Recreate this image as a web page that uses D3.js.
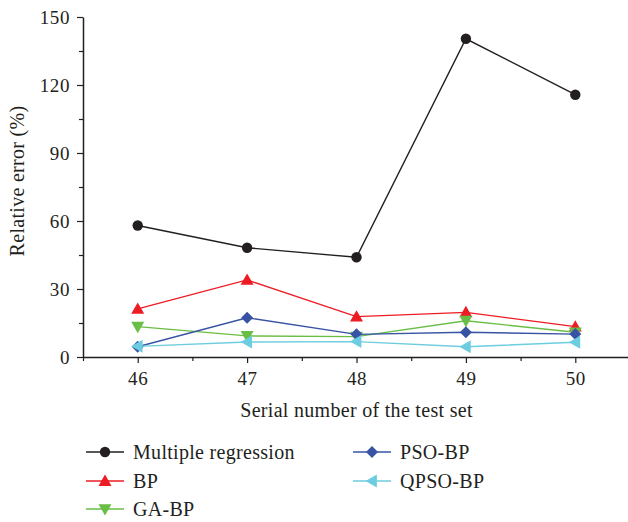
<!DOCTYPE html>
<html><head><meta charset="utf-8">
<script src="https://cdn.jsdelivr.net/npm/d3@7"></script>
<style>body{margin:0;background:#fff}svg{display:block}</style>
</head><body><svg id="c" width="628" height="522"></svg>
<script>
const categories = [46, 47, 48, 49, 50];
const seriesNames = ["Multiple regression", "BP", "GA-BP", "PSO-BP", "QPSO-BP"];
const multipleRegression = [58.0, 48.2, 44.0, 140.4, 115.7];
const bp = [21.2, 34.0, 17.8, 19.7, 13.4];
const gaBp = [13.4, 9.3, 9.0, 16.0, 10.9];
const psoBp = [4.5, 17.3, 10.0, 10.9, 10.1];
const qpsoBp = [4.7, 6.6, 6.8, 4.5, 6.5];
const yTicks = [0, 30, 60, 90, 120, 150];
const colors = ["#231f20", "#ed1c24", "#6abd45", "#3853a4", "#6dcde0"];
const symbols = ["circle", "up", "down", "diamond", "left"];

const allSeries = [multipleRegression, bp, gaBp, psoBp, qpsoBp];
const svg = d3.select("#c");
const font = "'Liberation Serif', 'DejaVu Serif', serif";
const x = d3.scaleLinear().domain([45.5, 50.5]).range([83, 630]);
const y = d3.scaleLinear().domain([0, 150]).range([357, 17]);

// axes
const xAxis = d3.axisBottom(x).tickValues(categories).tickSize(6).tickSizeOuter(0).tickPadding(8).tickFormat(d3.format("d"));
const gx = svg.append("g").attr("transform", "translate(0,357)").call(xAxis);
gx.selectAll(".tick line").attr("stroke", "#231f20").attr("stroke-width", 1.2);
const xMinor = d3.axisBottom(x).tickValues([45.5, 46.5, 47.5, 48.5, 49.5]).tickSize(4).tickFormat("");
const gxm = svg.append("g").attr("transform", "translate(0,357)").call(xMinor);
gxm.select(".domain").remove();
gxm.selectAll(".tick line").attr("stroke", "#231f20").attr("stroke-width", 1.2);

const yAxis = d3.axisLeft(y).tickValues(yTicks).tickSize(6).tickSizeOuter(0).tickPadding(7);
const gy = svg.append("g").attr("transform", "translate(83,0)").call(yAxis);
gy.selectAll(".tick line").attr("stroke", "#231f20").attr("stroke-width", 1.2);
const yMinor = d3.axisLeft(y).tickValues([15, 45, 75, 105, 135]).tickSize(4).tickFormat("");
const gym = svg.append("g").attr("transform", "translate(83,0)").call(yMinor);
gym.select(".domain").remove();
gym.selectAll(".tick line").attr("stroke", "#231f20").attr("stroke-width", 1.2);

[gx, gy].forEach(g => {
  g.select(".domain").attr("stroke", "#231f20").attr("stroke-width", 1.5);
  g.selectAll(".tick text").attr("font-family", font).attr("font-size", 19)
    .attr("letter-spacing", "0.6px").attr("fill", "#231f20");
});
gx.selectAll(".tick text").attr("dy", "0.72em");

svg.append("text").attr("x", x(48)).attr("y", 417).attr("text-anchor", "middle")
  .attr("font-family", font).attr("font-size", 20).attr("letter-spacing", "0.3px").attr("fill", "#231f20").text("Serial number of the test set");
svg.append("text").attr("transform", `translate(24,${y(75) - 6}) rotate(-90)`).attr("text-anchor", "middle")
  .attr("font-family", font).attr("font-size", 20).attr("letter-spacing", "0.3px").attr("fill", "#231f20").text("Relative error (%)");

function marker(g, type, color, cx, cy) {
  if (type === "circle") {
    g.append("circle").attr("cx", cx).attr("cy", cy).attr("r", 5.2).attr("fill", color);
  } else {
    let pts;
    const s = 6.5;
    if (type === "up") pts = [[0, -s], [s, s * 0.75], [-s, s * 0.75]];
    else if (type === "down") pts = [[0, s], [s, -s * 0.75], [-s, -s * 0.75]];
    else if (type === "diamond") pts = [[0, -6], [6, 0], [0, 6], [-6, 0]];
    else pts = [[-s, 0], [s * 0.75, -s], [s * 0.75, s]];
    g.append("polygon").attr("points", pts.map(p => [cx + p[0], cy + p[1]].join(",")).join(" ")).attr("fill", color);
  }
}

const line = d3.line().x((d, i) => x(categories[i])).y(d => y(d));
allSeries.forEach((vals, k) => {
  const g = svg.append("g");
  g.append("path").datum(vals).attr("d", line).attr("fill", "none").attr("stroke", colors[k]).attr("stroke-width", 1.4);
  vals.forEach((v, i) => marker(g, symbols[k], colors[k], x(categories[i]), y(v)));
});

// legend
const legendPos = [[86, 452], [86, 481], [86, 509], [353, 452], [353, 481]];
seriesNames.forEach((name, k) => {
  const [lx, ly] = legendPos[k];
  const g = svg.append("g");
  g.append("line").attr("x1", lx).attr("x2", lx + 38).attr("y1", ly).attr("y2", ly).attr("stroke", colors[k]).attr("stroke-width", 1.4);
  marker(g, symbols[k], colors[k], lx + 19, ly);
  g.append("text").attr("x", lx + 47).attr("y", ly).attr("dy", "0.33em").attr("font-family", font)
    .attr("font-size", 20).attr("letter-spacing", "0.3px").attr("fill", "#231f20").text(name);
});
</script></body></html>
